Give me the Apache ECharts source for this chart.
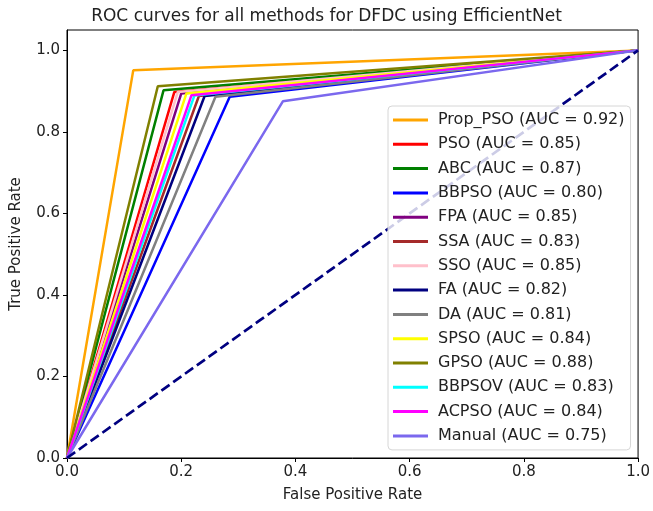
<!doctype html>
<html>
<head>
    <meta charset="utf-8">
    <title>ROC curves</title>
    <style>
        html, body { margin: 0; padding: 0; background: #fff; }
        #chart { width: 653px; height: 511px; }
    </style>
</head>
<body>
<div id="chart"></div>
<script src="https://cdn.jsdelivr.net/npm/echarts@6/dist/echarts.min.js"></script>
<script>
    // methods, in legend order
    var methods = ['Prop_PSO', 'PSO', 'ABC', 'BBPSO', 'FPA', 'SSA', 'SSO', 'FA', 'DA', 'SPSO', 'GPSO', 'BBPSOV', 'ACPSO', 'Manual'];
    var aucs = ['0.92', '0.85', '0.87', '0.80', '0.85', '0.83', '0.85', '0.82', '0.81', '0.84', '0.88', '0.83', '0.84', '0.75'];
    // knee point of each ROC curve
    var fprs = [0.116, 0.188, 0.169, 0.285, 0.200, 0.231, 0.194, 0.241, 0.260, 0.209, 0.159, 0.223, 0.218, 0.378];
    var tprs = [0.951, 0.898, 0.902, 0.886, 0.894, 0.888, 0.898, 0.888, 0.886, 0.894, 0.912, 0.889, 0.890, 0.875];
    var colors = ['#ffa500', '#ff0000', '#008000', '#0000ff', '#800080', '#a52a2a', '#ffc0cb', '#000080', '#808080', '#ffff00', '#808000', '#00ffff', '#ff00ff', '#7b68ee'];
    var xTicks = [0, 0.2, 0.4, 0.6, 0.8, 1.0];
    var yTicks = [0, 0.2, 0.4, 0.6, 0.8, 1.0];

    var font = 'DejaVu Sans';
    var names = [];
    var series = [];
    for (var i = 0; i < methods.length; i++) {
        var nm = methods[i] + ' (AUC = ' + aucs[i] + ')';
        names.push(nm);
        series.push({
            name: nm,
            type: 'line',
            symbol: 'none',
            animation: false,
            color: colors[i],
            lineStyle: {width: 2.5, color: colors[i]},
            data: [[0, 0], [fprs[i], tprs[i]], [1, 1]]
        });
    }
    // chance line
    series.push({
        name: 'chance',
        type: 'line',
        symbol: 'none',
        animation: false,
        lineStyle: {width: 2.7, color: '#000080', type: [10, 4.5]},
        data: [[0, 0], [1, 1]]
    });

    var myChart = echarts.init(document.getElementById('chart'));
    var option = {
        backgroundColor: '#fff',
        title: {
            text: 'ROC curves for all methods for DFDC using EfficientNet',
            left: 'center',
            top: 3,
            textStyle: {fontFamily: font, fontSize: 17, fontWeight: 'normal', color: '#222'}
        },
        grid: {left: 67, right: 13, top: 30, bottom: 53, show: true, borderColor: '#000', borderWidth: 1},
        legend: {
            data: names,
            orient: 'vertical',
            left: 388,
            top: 106,
            padding: [5, 6, 5, 5],
            itemGap: 6.3,
            itemWidth: 35,
            itemHeight: 3,
            icon: 'rect',
            backgroundColor: 'rgba(255,255,255,0.8)',
            borderColor: '#d6d6d6',
            borderWidth: 1,
            borderRadius: 4,
            textStyle: {fontFamily: font, fontSize: 16, lineHeight: 18, color: '#222', padding: [0, 0, 0, 5]}
        },
        xAxis: {
            type: 'value',
            min: 0,
            max: 1,
            interval: 0.2,
            name: 'False Positive Rate',
            nameLocation: 'middle',
            nameGap: 30,
            nameTextStyle: {fontFamily: font, fontSize: 15, color: '#222'},
            axisLine: {lineStyle: {color: '#000'}},
            axisTick: {length: 4, lineStyle: {color: '#000'}, customValues: xTicks},
            axisLabel: {fontFamily: font, fontSize: 15, color: '#222', margin: 7, customValues: xTicks,
                formatter: function (v) { return v.toFixed(1); }},
            splitLine: {show: false}
        },
        yAxis: {
            type: 'value',
            min: 0,
            max: 1.05,
            name: 'True Positive Rate',
            nameLocation: 'middle',
            nameGap: 43,
            nameTextStyle: {fontFamily: font, fontSize: 15, color: '#222'},
            axisLine: {show: true, lineStyle: {color: '#000'}},
            axisTick: {show: true, length: 4, lineStyle: {color: '#000'}, customValues: yTicks},
            axisLabel: {fontFamily: font, fontSize: 15, color: '#222', margin: 7, customValues: yTicks,
                formatter: function (v) { return v.toFixed(1); }},
            splitLine: {show: false}
        },
        series: series
    };
    myChart.setOption(option);
</script>
</body>
</html>
